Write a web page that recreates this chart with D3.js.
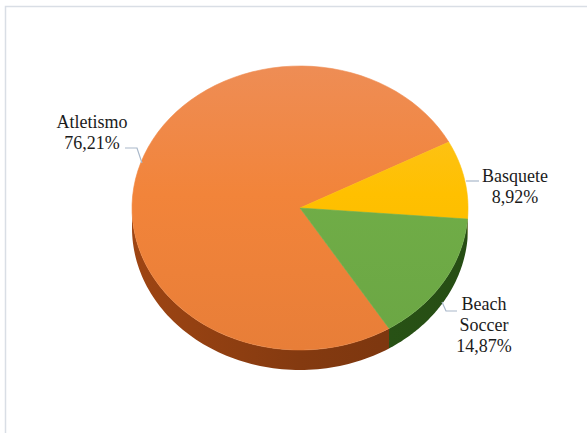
<!DOCTYPE html>
<html>
<head>
<meta charset="utf-8">
<script src="https://cdn.jsdelivr.net/npm/d3@7"></script>
<style>
  html, body { margin: 0; padding: 0; background: #ffffff; }
  svg { display: block; }
</style>
</head>
<body>
<svg id="chart" width="587" height="433"></svg>
<script>
// Modalidades e participação (%)
const categories = ["Atletismo", "Basquete", "Beach Soccer"];
const values = [76.21, 8.92, 14.87];
const valueLabels = ["76,21%", "8,92%", "14,87%"];
const topColors = ["#F2843A", "#FFC000", "#70AD47"];
const lightColors = ["#EE8D55", "#FBC42E", "#7BB257"];
const sideColors = ["#843A10", "#A67C00", "#2A5616"];

const W = 587, H = 433;
const cx = 300, cy = 208, rx = 168, ry = 142, depth = 20;
const startDeg = 148; // first slice angle, clockwise from 12 o'clock

const svg = d3.select("#chart");

// chart area outline
svg.append("rect")
  .attr("x", 5.5).attr("y", 6.5)
  .attr("width", W + 10).attr("height", H + 10)
  .attr("fill", "none").attr("stroke", "#D9DEE5").attr("stroke-width", 1.5);

const defs = svg.append("defs");
topColors.forEach((c, i) => {
  const g = defs.append("linearGradient")
    .attr("id", "top" + i).attr("gradientUnits", "userSpaceOnUse")
    .attr("x1", 0).attr("y1", cy - ry).attr("x2", 0).attr("y2", cy + ry);
  g.append("stop").attr("offset", "0%").attr("stop-color", lightColors[i]);
  g.append("stop").attr("offset", "45%").attr("stop-color", c);
  g.append("stop").attr("offset", "100%").attr("stop-color", d3.color(c).darker(0.12));
  const s = defs.append("linearGradient")
    .attr("id", "side" + i).attr("gradientUnits", "userSpaceOnUse")
    .attr("x1", cx - rx).attr("y1", 0).attr("x2", cx + rx).attr("y2", 0);
  s.append("stop").attr("offset", "0%").attr("stop-color", d3.color(sideColors[i]).brighter(0.5));
  s.append("stop").attr("offset", "50%").attr("stop-color", sideColors[i]);
  s.append("stop").attr("offset", "100%").attr("stop-color", d3.color(sideColors[i]).darker(0.3));
});

const toRad = Math.PI / 180;
const pie = d3.pie().sort(null)
  .startAngle(startDeg * toRad)
  .endAngle(startDeg * toRad + 2 * Math.PI);
const arcs = pie(values).map((a, i) => ({ ...a, i }));

// point on the elliptical rim for a compass angle (radians, clockwise from top)
const px = a => cx + rx * Math.sin(a);
const py = (a, off = 0) => cy - ry * Math.cos(a) + off;

function rimPoints(a0, a1, off, n = 80) {
  const pts = [];
  for (let k = 0; k <= n; k++) {
    const a = a0 + (a1 - a0) * k / n;
    pts.push([px(a), py(a, off)]);
  }
  return pts;
}

const line = d3.line();

// side walls: only the front half (90°..270°) is visible
const sides = svg.append("g");
arcs.forEach(d => {
  const spans = [];
  for (let shift = -2; shift <= 2; shift++) {
    const lo = Math.PI / 2 + shift * 2 * Math.PI, hi = 1.5 * Math.PI + shift * 2 * Math.PI;
    const a0 = Math.max(d.startAngle, lo), a1 = Math.min(d.endAngle, hi);
    if (a1 > a0) spans.push([a0, a1]);
  }
  spans.forEach(([a0, a1]) => {
    const top = rimPoints(a0, a1, 0);
    const bot = rimPoints(a1, a0, depth);
    sides.append("path")
      .attr("d", line(top.concat(bot)) + "Z")
      .attr("fill", `url(#side${d.i})`);
  });
});

// top face
const tops = svg.append("g");
arcs.forEach(d => {
  const pts = [[cx, cy]].concat(rimPoints(d.startAngle, d.endAngle, 0));
  tops.append("path")
    .attr("d", line(pts) + "Z")
    .attr("fill", `url(#top${d.i})`)
    .attr("stroke", `url(#top${d.i})`).attr("stroke-width", 0.6);
});

// leader lines
const leaders = [
  [[142, 163], [137, 148], [125, 148]],
  [[466, 181], [479, 181]],
  [[442, 302], [446, 311], [457, 311]]
];
svg.append("g").selectAll("path").data(leaders).join("path")
  .attr("d", d => line(d))
  .attr("fill", "none").attr("stroke", "#A9B8CA").attr("stroke-width", 1.2);

// data labels
const labelPos = [
  { x: 92, y: 128, lines: [categories[0], valueLabels[0]] },
  { x: 515, y: 182, lines: [categories[1], valueLabels[1]] },
  { x: 484, y: 310, lines: ["Beach", "Soccer", valueLabels[2]] }
];
const lab = svg.append("g").selectAll("text").data(labelPos).join("text")
  .attr("text-anchor", "middle")
  .style("font-family", "\"Liberation Serif\", \"DejaVu Serif\", \"Noto Serif\", serif")
  .attr("fill", "#1b1b1b")
  .attr("font-size", 18);
lab.each(function(d) {
  const t = d3.select(this);
  d.lines.forEach((s, k) => {
    t.append("tspan").attr("x", d.x).attr("y", d.y + k * 21).text(s);
  });
});
</script>
</body>
</html>
